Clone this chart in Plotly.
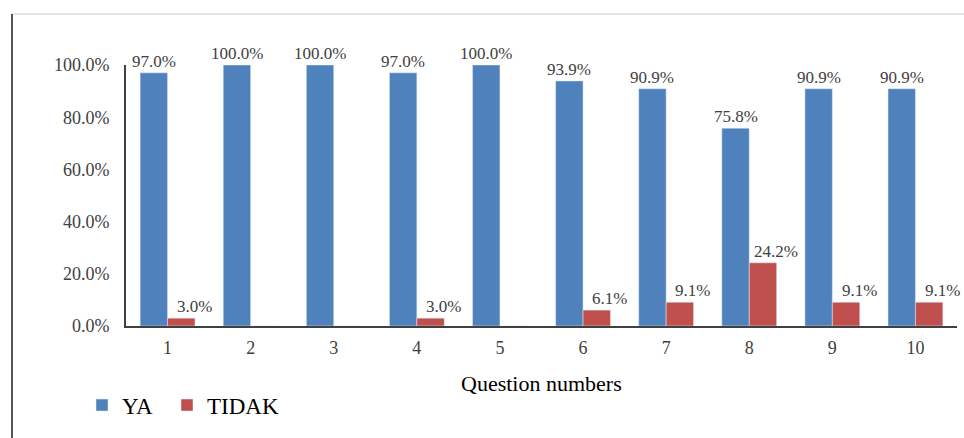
import plotly.graph_objects as go

questions = [1, 2, 3, 4, 5, 6, 7, 8, 9, 10]
ya = [97.0, 100.0, 100.0, 97.0, 100.0, 93.9, 90.9, 75.8, 90.9, 90.9]
tidak = [3.0, 0.0, 0.0, 3.0, 0.0, 6.1, 9.1, 24.2, 9.1, 9.1]
y_ticks = [0, 20, 40, 60, 80, 100]
y_tick_labels = ["0.0%", "20.0%", "40.0%", "60.0%", "80.0%", "100.0%"]

BLUE = "#4F81BD"
RED = "#C0504D"
SERIF = "Liberation Serif, Times New Roman, serif"
TXT = "#404040"

fig = go.Figure()
fig.add_trace(go.Bar(x=questions, y=ya, name="YA", marker_color=BLUE,
                     width=0.33, offset=-0.33, legend="legend"))
fig.add_trace(go.Bar(x=questions, y=tidak, name="TIDAK", marker_color=RED,
                     width=0.33, offset=0.0, legend="legend2"))

annotations = []
for q, v in zip(questions, ya):
    annotations.append(dict(x=q - 0.165, y=v, xref="x", yref="y", text=f"{v:.1f}%",
                            showarrow=False, yanchor="bottom", xanchor="center",
                            font=dict(family=SERIF, size=17, color=TXT)))
for q, v in zip(questions, tidak):
    if v > 0:
        annotations.append(dict(x=q + 0.165, y=v, xref="x", yref="y", text=f"{v:.1f}%",
                                showarrow=False, yanchor="bottom", xanchor="center",
                                xshift=13,
                                font=dict(family=SERIF, size=17, color=TXT)))
annotations.append(dict(x=0.5, y=-0.222, xref="paper", yref="paper",
                        text="Question numbers", showarrow=False,
                        xanchor="center", yanchor="middle",
                        font=dict(family=SERIF, size=22, color="#000000")))

shapes = [
    dict(type="line", xref="paper", yref="paper",
         x0=(12 - 126) / 831, x1=(964 - 126) / 831,
         y0=(326 - 14) / 261, y1=(326 - 14) / 261,
         line=dict(color="#DDDDDD", width=1.5)),
    dict(type="line", xref="paper", yref="paper",
         x0=(12 - 126) / 831, x1=(12 - 126) / 831,
         y0=(326 - 14) / 261, y1=(326 - 440) / 261,
         line=dict(color="#555555", width=2)),
]

leg_font = dict(family=SERIF, size=23, color="#000000")
fig.update_layout(
    width=964, height=438,
    margin=dict(l=126, r=7, t=65, b=112),
    paper_bgcolor="white", plot_bgcolor="white",
    barmode="group",
    showlegend=True,
    legend=dict(orientation="h", x=(82 - 126) / 831, xanchor="left",
                y=-0.303, yanchor="middle", font=leg_font,
                bgcolor="rgba(0,0,0,0)"),
    legend2=dict(orientation="h", x=(167 - 126) / 831, xanchor="left",
                 y=-0.303, yanchor="middle", font=leg_font,
                 bgcolor="rgba(0,0,0,0)"),
    annotations=annotations,
    shapes=shapes,
    xaxis=dict(range=[0.5, 10.5], tickmode="array", tickvals=questions,
               ticktext=[str(q) for q in questions],
               showgrid=False, zeroline=False, showline=True,
               linecolor="#404040", linewidth=2,
               ticks="outside", ticklen=4, tickcolor="rgba(0,0,0,0)",
               tickfont=dict(family=SERIF, size=18, color=TXT)),
    yaxis=dict(range=[0, 100], tickmode="array", tickvals=y_ticks,
               ticktext=y_tick_labels,
               showgrid=False, zeroline=False, showline=True,
               linecolor="#404040", linewidth=2,
               ticks="outside", ticklen=11, tickcolor="rgba(0,0,0,0)",
               tickfont=dict(family=SERIF, size=18, color=TXT)),
)

fig.write_html("out.html")
